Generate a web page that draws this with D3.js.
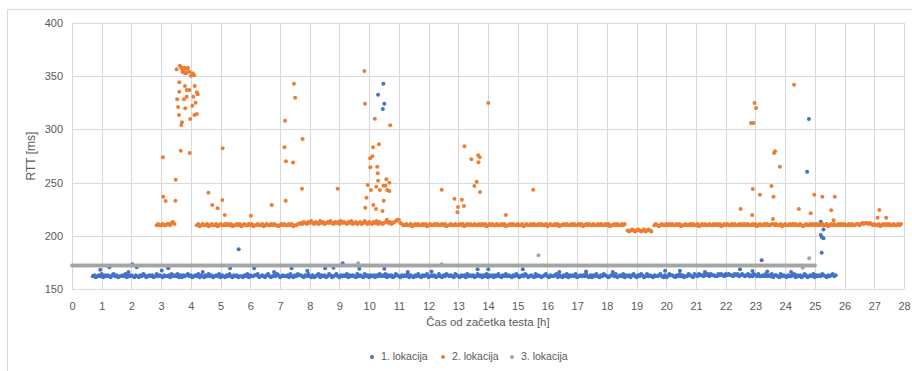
<!DOCTYPE html>
<html>
<head>
<meta charset="utf-8">
<script src="https://cdn.jsdelivr.net/npm/d3@7"></script>
<style>
  html, body { margin: 0; padding: 0; background: #fff; }
  svg { display: block; font-family: "Liberation Sans", Arial, sans-serif; }
</style>
</head>
<body>
<svg id="chart" width="912" height="371"></svg>
<script>
// Osi
const xTicks = d3.range(0, 29);
const yTicks = [150, 200, 250, 300, 350, 400];
const seriesNames = ["1. lokacija", "2. lokacija", "3. lokacija"];
const seriesColors = ["#4472C4", "#ED7D31", "#A5A5A5"];

// Osnovni pas meritev: vrednost = baza + znak (base36), korak 0.05 h
const STEP = 0.05;

// 1. lokacija (baza 160), od 0.7 h do 25.7 h
const blueStart = 0.7;
const blueBase = 160;
const blueBand =
  "2312324132" + "3213423122" + "3241323213" + "2132431232" + "3124232132" +
  "2314232413" + "1323423123" + "2413213242" + "3123241321" + "3242132312" +
  "2132413223" + "3412321342" + "1232431232" + "2314213243" + "3213242131" +
  "2341323124" + "3123421323" + "2413232142" + "3214231323" + "1324232413" +
  "2312432132" + "3241321324" + "2132341232" + "3124213243" + "2321432132" +
  "3142323124" + "2313241323" + "1324213242" + "3213243123" + "2431232142" +
  "3212342132" + "2341321324" + "1323241232" + "3242131324" + "2132432123" +
  "3241232413" + "2313421324" + "3124232132" + "2342131243" + "3213242312" +
  "2432143243" + "3243424332" + "2434324343" + "3243423432" + "3423243242" +
  "2324232413" + "3214232132" + "2341323124" + "3123241323" + "2432132342" +
  "3";

// 2. lokacija (baza 200) — štirje odseki
const orangeBase = 200;
const orangeStarts = [2.85, 4.2, 18.7, 19.6];
const orangeBands = [
  "abaabaabbacdb",
  "ab9abaab9a" + "baab9abaab" + "abab9aabab" + "9abaabab9a" + "abaab9abaa" +
  "babaa9abab" + "aabab9aabb" + "cbdcbdcecb" + "dcbecdbcdc" + "ecbdcdbecd" +
  "cbdcebcdbc" + "dbcecbdcbd" + "cebdcbcdfc" + "dbcdeffcba" + "abaab9abab" +
  "aabab9abaa" + "babaabab9a" + "abaabaabab" + "9ababaabaa" + "babab9abab" +
  "aabaabab9a" + "ababaabaab" + "9abaababaa" + "babaab9aba" + "abab9aabab" +
  "aababaabab" + "9ababaabaa" + "babaabab9a" + "ababaabab",
  "54565456545645654",
  "aba9abaaba" + "babaabab9a" + "abaababaab" + "9ababaabaa" + "babab9abab" +
  "aababaabab" + "ababaabab9" + "abaababaab" + "babaab9aba" + "abababaaba" +
  "9abaababab" + "ababaab9ab" + "abaabababa" + "ababaabbab" + "cbccbcbaba" +
  "ab9abababa" + "abaabab"
];

// 3. lokacija (baza 170), od 0 h do 25 h
const grayStart = 0;
const grayBase = 170;
const grayBand =
  "2222222222222222222222222222222222222222222222222222222222222222222222222222222222222222222222222222" +
  "2222222222222222222222222222222222222222222222222222222222222222222222222222222222222222222222222222" +
  "2222222222222222222222222222222222222222222222222222222222222222222222222222222222222222222222222222" +
  "2222222222222222222222222222222222222222222222222222222222222222222222222222222222222222222222222222" +
  "2222222222222222222222222222222222222222222222222222222222222222222222222222222222222222222222222222" +
  "2";

// Izstopajoče točke [h, ms]
const blueOutliers = [
  [0.95, 168], [1.26, 170.4], [2.03, 173.2], [2.18, 170.4], [3.02, 167.5],
  [3.24, 169.4], [5.32, 169.4], [5.61, 187.3], [6.13, 169.4], [7.39, 169.4],
  [7.92, 167.2], [8.52, 169.4], [8.8, 170], [9.11, 174.1], [9.67, 169],
  [10.51, 169], [13.65, 168.5], [14.01, 168.5], [15.17, 168.5], [19.96, 167.2],
  [20.46, 167.2], [22.48, 168.5], [23.21, 177], [24.74, 260.3], [24.8, 309.8],
  [10.3, 332.6], [10.46, 319.2], [10.48, 343], [10.51, 324.2],
  [25.2, 213.3], [25.29, 206], [25.2, 200.8], [25.24, 198.6], [25.29, 197.6], [25.23, 184.1],
  [1.9, 166], [4.4, 166], [6.8, 166], [11.3, 166], [12.1, 166.5], [16.4, 166], [17.3, 166.5],
  [18.2, 166], [21.3, 166], [22.9, 167], [23.4, 166.5], [24.2, 166]
];

const orangeOutliers = [
  [3.52, 356.5], [3.63, 359.9], [3.75, 355.8], [3.88, 356.8], [3.95, 354.2], [4.06, 352.7],
  [3.8, 352.7], [4.0, 350.5], [4.11, 351], [3.7, 357], [3.72, 354], [3.85, 353], [3.9, 358],
  [3.67, 358.5], [3.78, 358], [3.61, 344.3], [3.8, 340.8], [4.13, 340.8], [3.86, 337], [3.95, 337],
  [3.61, 335.4], [4.2, 334.9], [4.23, 333], [4.08, 330.7], [3.86, 330.7], [3.54, 328.3],
  [3.77, 328.3], [4.16, 325.1], [4.05, 322.3], [3.57, 321], [3.81, 319.8], [4.2, 314.5],
  [4.12, 313.5], [3.6, 313.5], [3.98, 309.8], [3.7, 306.7], [3.68, 304.1], [3.06, 273.8],
  [3.66, 280], [3.96, 277.8], [5.07, 282.2], [3.49, 252.7], [3.07, 236.7], [3.15, 232.7],
  [3.48, 233], [4.59, 240.5], [4.72, 229], [4.9, 225.8], [5.06, 233.6], [5.14, 219.5],
  [6.02, 218.9], [6.72, 229], [7.17, 308.2], [7.47, 343], [7.51, 329.8], [7.15, 283.2],
  [7.76, 291], [7.2, 270], [7.44, 269], [7.74, 244.3], [8.94, 244.3], [7.19, 233],
  [9.84, 354.9], [9.86, 324.2], [10.19, 310], [10.13, 283.2], [10.33, 286], [10.03, 272.8],
  [10.11, 274.7], [10.04, 264.4], [10.27, 265], [10.29, 258.7], [10.3, 251.8], [10.58, 253.1],
  [10.68, 249.9], [9.95, 247.7], [10.24, 246.1], [10.48, 247], [10.55, 247], [10.06, 243],
  [10.36, 243], [10.61, 243], [10.68, 242.1], [9.91, 235.8], [10.49, 233], [9.87, 226.4],
  [10.14, 229], [10.23, 225.2], [10.45, 223.3], [10.71, 303.9],
  [14.01, 324.8], [13.21, 284.1], [13.44, 271.9], [13.67, 275.7], [13.72, 273.8], [13.68, 269.1],
  [13.62, 250.8], [13.54, 246.8], [13.73, 241.2], [12.44, 243.3], [12.87, 234.9], [13.12, 233.9],
  [12.99, 227.1], [13.19, 228], [12.97, 222.1], [14.6, 219.5], [15.52, 243.3],
  [24.3, 342], [22.97, 324.8], [23.02, 320.1], [22.85, 306], [22.93, 306], [23.66, 279.4],
  [23.63, 277.8], [23.82, 265], [22.91, 244], [23.54, 246.8], [23.15, 238.6], [23.61, 236.7],
  [22.5, 225.2], [22.89, 219.5], [23.59, 215.8], [24.46, 225.2], [24.86, 221.1], [24.98, 238.6],
  [25.25, 236.7], [25.55, 224], [25.67, 236.7], [25.63, 214.5], [27.11, 217], [27.17, 224.2],
  [27.4, 217]
];

const grayOutliers = [
  [9.63, 174.1], [12.44, 173.2], [15.7, 181.7], [24.81, 178.9], [24.59, 170]
];

// pretvori niz v točke
function decode(str, start, base) {
  return Array.from(str).map((ch, i) => [start + i * STEP, base + parseInt(ch, 36)]);
}

const blueData = decode(blueBand, blueStart, blueBase).concat(blueOutliers);
const orangeData = orangeBands
  .flatMap((s, k) => decode(s, orangeStarts[k], orangeBase))
  .concat(orangeOutliers);
const grayData = decode(grayBand, grayStart, grayBase).concat(grayOutliers);

const svg = d3.select("#chart");
const W = 912, H = 371;
const plot = { left: 72, right: 904, top: 23, bottom: 289 };

const x = d3.scaleLinear().domain([0, 28]).range([plot.left, plot.right]);
const y = d3.scaleLinear().domain([150, 400]).range([plot.bottom, plot.top]);

// okvir grafikona
svg.append("rect")
  .attr("x", 7.5).attr("y", 9.5)
  .attr("width", W).attr("height", H)
  .attr("fill", "#fff")
  .attr("stroke", "#d9d9d9");

// mreža
const grid = svg.append("g").attr("stroke", "#d9d9d9").attr("stroke-width", 1);
grid.selectAll("line.v").data(xTicks).join("line")
  .attr("class", "v")
  .attr("x1", d => Math.round(x(d)) + 0.5).attr("x2", d => Math.round(x(d)) + 0.5)
  .attr("y1", plot.top).attr("y2", plot.bottom);
grid.selectAll("line.h").data(yTicks).join("line")
  .attr("class", "h")
  .attr("x1", plot.left).attr("x2", plot.right)
  .attr("y1", d => Math.round(y(d)) + 0.5).attr("y2", d => Math.round(y(d)) + 0.5);

// osi (samo oznake)
const xAxis = svg.append("g")
  .attr("transform", `translate(0,${plot.bottom + 10})`)
  .call(d3.axisBottom(x).tickValues(xTicks).tickSize(0).tickFormat(d3.format("d")));
const yAxis = svg.append("g")
  .attr("transform", `translate(${plot.left - 6},0)`)
  .call(d3.axisLeft(y).tickValues(yTicks).tickSize(0));
[xAxis, yAxis].forEach(a => {
  a.select(".domain").remove();
  a.selectAll("text")
    .attr("fill", "#595959")
    .style("font-family", "Liberation Sans, Arial, sans-serif")
    .style("font-size", "11px");
});

// točke
const layers = [blueData, orangeData, grayData];
layers.forEach((data, k) => {
  svg.append("g").selectAll("circle").data(data).join("circle")
    .attr("cx", d => x(d[0]))
    .attr("cy", d => y(d[1]))
    .attr("r", 2)
    .attr("fill", seriesColors[k]);
});

// naslovi osi
svg.append("text")
  .attr("x", (plot.left + plot.right) / 2).attr("y", 323)
  .attr("text-anchor", "middle").attr("dominant-baseline", "middle")
  .attr("fill", "#595959").style("font-size", "11.5px")
  .text("Čas od začetka testa [h]");

svg.append("text")
  .attr("transform", `translate(32,${(plot.top + plot.bottom) / 2}) rotate(-90)`)
  .attr("text-anchor", "middle").attr("dominant-baseline", "middle")
  .attr("fill", "#595959").style("font-size", "12px")
  .text("RTT [ms]");

// legenda
const legendX = [372, 443, 512];
const legend = svg.append("g");
seriesNames.forEach((name, k) => {
  legend.append("circle")
    .attr("cx", legendX[k]).attr("cy", 357)
    .attr("r", 2).attr("fill", seriesColors[k]);
  legend.append("text")
    .attr("x", legendX[k] + 9).attr("y", 357)
    .attr("dominant-baseline", "middle")
    .attr("fill", "#595959").style("font-size", "10.5px")
    .text(name);
});
</script>
</body>
</html>
